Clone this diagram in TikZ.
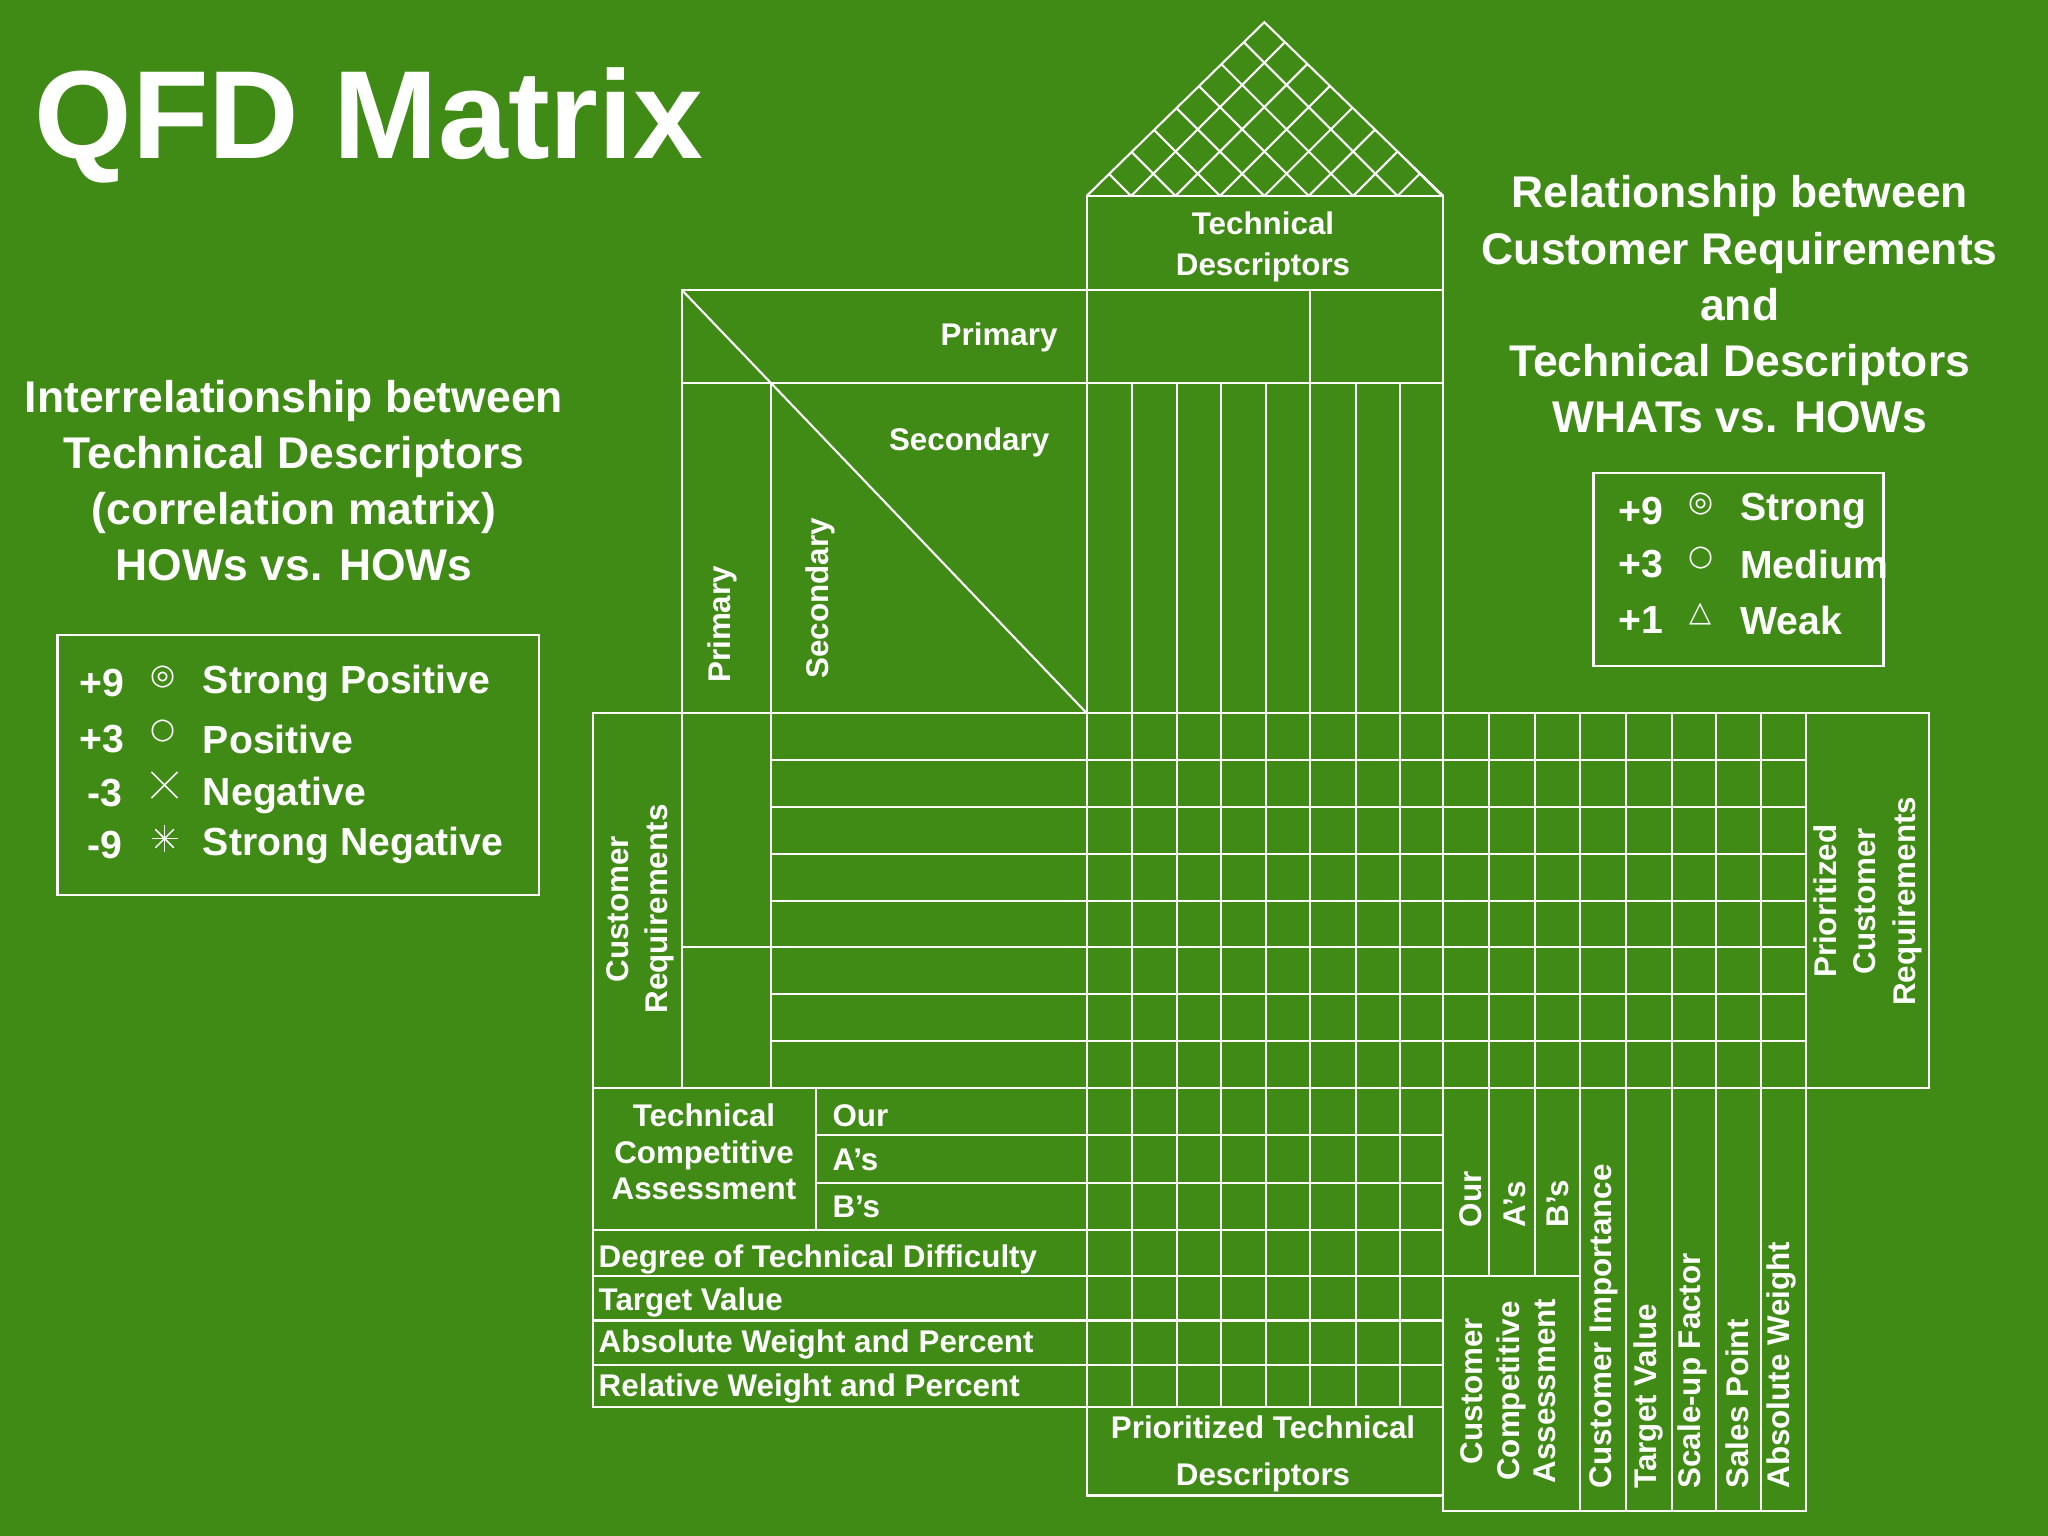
\documentclass[tikz,border=0pt]{standalone}
\usepackage{fontspec}
\setmainfont{Liberation Sans}
\newfontfamily\symf{DejaVu Sans}
\begin{document}
\begin{tikzpicture}[x=0.5pt,y=-0.5pt,
  ln/.style={draw=white,line width=0.8pt},
  lab/.style={text=white,font=\bfseries\fontsize{12}{13}\selectfont,inner sep=0pt},
  head/.style={text=white,font=\bfseries\fontsize{17}{21.5}\selectfont,align=center,inner sep=0pt},
  leg/.style={text=white,font=\bfseries\fontsize{15}{17}\selectfont,inner sep=0pt}]
\fill[fill={rgb,255:red,64;green,138;blue,22}] (0,0) rectangle (1568,1176);
\useasboundingbox (0,0) rectangle (1568,1176);
\node[text=white,font=\bfseries\fontsize{48}{52}\selectfont,anchor=west,inner sep=0pt] (title) at (26,96) {QFD Matrix};
% roof
\begin{scope}
\clip (832,150) -- (968,17) -- (1105,150) -- cycle;
\foreach \c in {0,34,...,306}{
  \draw[ln] (832+\c,150) -- ++(-150,-150);
  \draw[ln] (832+\c-34,150) -- ++(150,-150);}
\end{scope}
\draw[ln] (832,150) -- (968,17) -- (1105,150);
% tech descriptors
\draw[ln] (832,150) rectangle (1105,222);
\node[lab,align=center] (td) at (967,189) {Technical\\[3pt]Descriptors};
\draw[ln] (522,222) rectangle (1105,293);
\draw[ln] (1003,222) -- (1003,293);
\draw[ln] (832,222) -- (832,546);
\draw[ln] (522,222) -- (522,833);
\draw[ln] (590,293) -- (590,833);
\draw[ln] (590,293) -- (1105,293);
\draw[ln] (522,222) -- (590,293) -- (832,546);
\node[lab,anchor=east] (pr) at (810,258) {Primary};
\node[lab] (se) at (742,339) {Secondary};
\node[lab,rotate=90] (prv) at (553,478) {Primary};
\node[lab,rotate=90] (sev) at (628,458) {Secondary};
% upper column lines
\foreach \x in {867,901,935,969,1003,1038,1072,1105}{\draw[ln] (\x,293) -- (\x,546);}
% main grid
\draw[ln] (454,546) rectangle (1477,833);
\foreach \y in {582,618,654,690,725,761,797}{\draw[ln] (590,\y) -- (1383,\y);}
\draw[ln] (522,725) -- (590,725);
\foreach \x in {832,867,901,935,969,1003,1038,1072,1105,1140,1175,1210,1245,1280,1314,1348,1383}{\draw[ln] (\x,546) -- (\x,833);}
\node[lab,rotate=90,align=center] (cr) at (490,696) {Customer\\[2pt]Requirements};
\node[lab,rotate=90,align=center] (pcr) at (1430,690) {Prioritized\\[2pt]Customer\\[2pt]Requirements};
% technical competitive assessment
\draw[ln] (454,833) rectangle (1105,942);
\draw[ln] (625,833) -- (625,942);
\foreach \y in {869,906}{\draw[ln] (625,\y) -- (1105,\y);}
\node[lab,align=center] (tca) at (539,882) {Technical\\[1pt]Competitive\\[1pt]Assessment};
\node[lab,anchor=west] (our) at (637,854) {Our};
\node[lab,anchor=west] (as) at (637,888) {A's};
\node[lab,anchor=west] (bs) at (637,924) {B's};
\draw[ln] (454,942) rectangle (832,1077);
\foreach \y in {977,1011,1045}{\draw[ln] (454,\y) -- (1105,\y);}
\draw[ln] (832,1077) -- (1105,1077);
\foreach \x in {832,867,901,935,969,1003,1038,1072,1105}{\draw[ln] (\x,833) -- (\x,1077);}
\node[lab,anchor=west] (d1) at (458,964) {Degree of Technical Difficulty};
\node[lab,anchor=west] (d2) at (458,997) {Target Value};
\node[lab,anchor=west] (d3) at (458,1029) {Absolute Weight and Percent};
\node[lab,anchor=west] (d4) at (458,1063) {Relative Weight and Percent};
\draw[ln] (832,1077) rectangle (1105,1145);
\node[lab,align=center] (ptd) at (967,1113) {Prioritized Technical\\[5pt]Descriptors};
% right bottom
\draw[ln] (1105,833) rectangle (1383,1157);
\foreach \x in {1140,1175}{\draw[ln] (\x,833) -- (\x,977);}
\draw[ln] (1105,977) -- (1210,977);
\foreach \x in {1210,1245,1280,1314,1348}{\draw[ln] (\x,833) -- (\x,1157);}
\node[lab,rotate=90,anchor=west] (o2) at (1126,940) {Our};
\node[lab,rotate=90,anchor=west] (a2) at (1160,940) {A's};
\node[lab,rotate=90,anchor=west] (b2) at (1193,940) {B's};
\node[lab,rotate=90,align=center,anchor=center] (cca) at (1155,1065) {Customer\\[1pt]Competitive\\[1pt]Assessment};
\node[lab,rotate=90,anchor=west] (ci) at (1228,1140) {Customer Importance};
\node[lab,rotate=90,anchor=west] (tv) at (1262,1140) {Target Value};
\node[lab,rotate=90,anchor=west] (sf) at (1296,1140) {Scale-up Factor};
\node[lab,rotate=90,anchor=west] (sp) at (1330,1140) {Sales Point};
\node[lab,rotate=90,anchor=west] (aw) at (1364,1140) {Absolute Weight};
% headings
\node[head] (rh) at (1332,233) {Relationship between\\Customer Requirements\\and\\Technical Descriptors\\WHATs vs. HOWs};
\node[head] (lh) at (225,368) {Interrelationship between\\Technical Descriptors\\(correlation matrix)\\HOWs vs. HOWs};
% right legend
\draw[ln] (1220,362) rectangle (1442,510);
\node[leg] at (1256,391) {+9}; \node[leg] at (1256,432) {+3}; \node[leg] at (1256,475) {+1};
\node[text=white,font=\symf\fontsize{11}{11}\selectfont] at (1302,386) {◎};
\node[text=white,font=\symf\fontsize{11}{11}\selectfont] at (1302,427) {○};
\node[text=white,font=\symf\fontsize{11}{11}\selectfont] at (1302,470) {△};
\node[leg,anchor=west] at (1332,391) {Strong};
\node[leg,anchor=west] at (1332,432) {Medium};
\node[leg,anchor=west] at (1332,475) {Weak};
% left legend
\draw[ln] (44,486) rectangle (413,685);
\node[leg] at (78,523) {+9}; \node[leg] at (78,566) {+3}; \node[leg] at (80,607) {-3}; \node[leg] at (80,647) {-9};
\node[text=white,font=\symf\fontsize{11}{11}\selectfont] at (125,518) {◎};
\node[text=white,font=\symf\fontsize{11}{11}\selectfont] at (125,560) {○};
\draw[white,line width=0.6pt] (116,591) -- (136,611) (136,591) -- (116,611);
\foreach \a in {0,45,...,135}{\draw[white,line width=0.6pt] (126,642) -- ++(\a:10) (126,642) -- ++(\a+180:10);}
\node[leg,anchor=west] at (155,523) {Strong Positive};
\node[leg,anchor=west] at (155,566) {Positive};
\node[leg,anchor=west] at (155,609) {Negative};
\node[leg,anchor=west] at (155,647) {Strong Negative};
\end{tikzpicture}
\end{document}
